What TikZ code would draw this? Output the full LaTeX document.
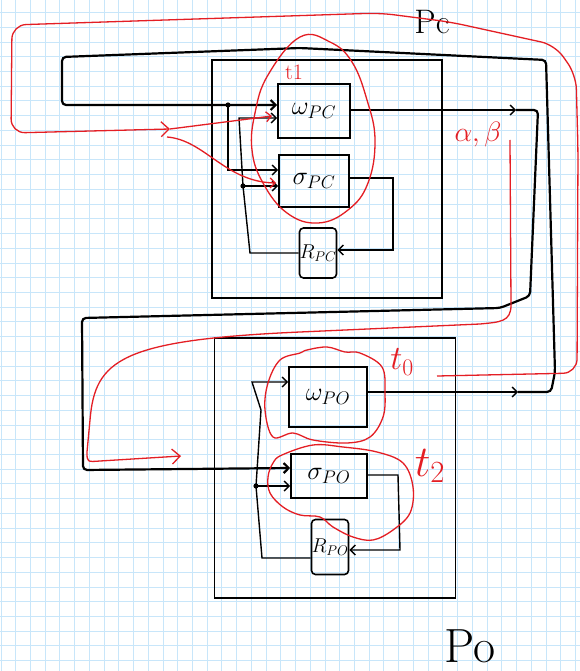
\RequirePackage{fix-cm}
\documentclass[tikz,border=0pt]{standalone}
\usepackage{tikz}
\usetikzlibrary{arrows.meta, positioning}

\definecolor{pen}{RGB}{228,30,36}
\definecolor{gridblue}{RGB}{200,230,250}

\begin{document}
\begin{tikzpicture}[
    x=1pt, y=-1pt,
    gridline/.style={gridblue, line width=1pt},
    module/.style={rectangle, draw, line width=1.8pt, minimum width=#1},
    fn/.style={rectangle, draw, line width=1.6pt, inner sep=0pt, font=\fontsize{26}{28}\selectfont},
    reg/.style={fn, rounded corners=4pt, font=\fontsize{20}{22}\selectfont},
    wire/.style={line width=1.4pt},
    bus/.style={line width=2.2pt, rounded corners=4pt},
    arrow/.style={-{Straight Barb[length=5pt, width=10pt]}},
    flow/.style={pen, line width=1.3pt},
    bigarrow/.style={-{Straight Barb[length=8pt, width=15pt]}},
    note/.style={pen}
]
\useasboundingbox (0,0) rectangle (580,671);
\fill[white] (0,0) rectangle (580,671);

% squared paper
\foreach \i in {0,...,39}
    \draw[gridline] ({1+14.73*\i},0) -- ++(0,671);
\foreach \i in {0,...,45}
    \draw[gridline] (0,{12.6+14.73*\i}) -- ++(580,0);

% the two modules
\node[module=230pt, minimum height=238pt] (pcm) at (327,179) {};
\node[module=241pt, minimum height=260pt] (pom) at (335,468) {};

% PC blocks
\node[fn, minimum width=72pt, minimum height=54pt] (wpc) at (314,111) {$\omega_{PC}$};
\node[fn, minimum width=70pt, minimum height=52pt] (spc) at (314,181) {$\sigma_{PC}$};
\node[reg, minimum width=37pt, minimum height=50pt] (rpc) at (318,253) {$R_{PC}$};

% PO blocks
\node[fn, minimum width=78pt, minimum height=60pt] (wpo) at (328,397) {$\omega_{PO}$};
\node[fn, minimum width=76pt, minimum height=44pt] (spo) at (329,476) {$\sigma_{PO}$};
\node[reg, minimum width=34pt, minimum height=55pt] (rpo) at (330,547) {$R_{PO}$};

\node[font=\fontsize{34}{34}\selectfont] (pc) at (432,22) {Pc};
\node[font=\fontsize{48}{48}\selectfont] (po) at (470,646) {Po};

% junctions and mid-wire arrows
\coordinate (j1) at (228,105);
\coordinate (j2) at (243,186);
\coordinate (j3) at (256,486);
\coordinate (oa) at (516,110);
\coordinate (ob) at (518,392);

% omega_PO -> omega_PC, round the top
\draw[wire, arrow] ([yshift=5pt]wpo.east) -- (ob);
\draw[bus, arrow] (ob) -- (551,392) -- (555,372) -- (546,60) -- (300,48) -- (62,57) -- (62,105) -- ([yshift=6pt]wpc.west);

% omega_PC -> sigma_PO
\draw[wire, arrow] ([yshift=1pt]wpc.east) -- (oa);
\draw[bus, arrow] (oa) -- (538,110) -- (530,296) -- (500,308) -- (82,318) -- (83,470) -- ([yshift=8pt]spo.west);

% inside PC
\draw[wire, arrow] (j1) |- ([yshift=11pt]spc.west);
\draw[wire, arrow] (rpc.west) -- (250,253) -- (j2) -- (239,118) -- ([yshift=-7pt]wpc.west);
\draw[wire, arrow] (j2) -- ([yshift=-5pt]spc.west);
\draw[wire, arrow] ([yshift=3pt]spc.east) -- (393,178) -- (393,250) -- ([yshift=3pt]rpc.east);

% inside PO
\draw[wire, arrow] ([yshift=-11pt]rpo.west) -- (262,558) -- (j3) -- (261,410) -- (252,382) -- ([yshift=15pt]wpo.west);
\draw[wire, arrow] (j3) -- ([yshift=-10pt]spo.west);
\draw[wire, arrow] ([yshift=1pt]spo.east) -- (398,475) -- (400,550) -- ([yshift=-3pt]rpo.east);

\foreach \j in {j1,j2,j3}
    \fill (\j) circle (2.6pt);

% red annotations
\coordinate (rin) at (170,129);
\coordinate (rb) at (181,456);
\draw[flow, bigarrow, rounded corners=14pt] (437,376) -- (577,373) -- (578,150) -- (576,75) -- (555,45) -- (450,22) -- (380,13) -- (12,25) -- (11,133) -- (rin);
\draw[flow, arrow] (rin) -- (272,116);
\draw[flow, arrow] (167,137) .. controls (205,140) and (225,182) .. (276,183);
\draw[flow, bigarrow] (510,140) -- (511,305) .. controls (511,322) and (500,322) .. (480,324) -- (300,332) .. controls (120,340) and (95,360) .. (90,420) -- (87,452) .. controls (87,462) .. (100,461) -- (rb);

\draw[flow] plot[smooth cycle, tension=0.7] coordinates {(300,37) (330,42) (352,62) (367,100) (375,140) (368,183) (348,210) (318,223) (287,213) (263,183) (252,150) (255,113) (268,75)};
\draw[flow] plot[smooth cycle, tension=0.6] coordinates {(280,360) (300,353) (307,350) (327,347) (345,352) (360,353) (382,367) (385,393) (383,417) (370,437) (347,443) (313,440) (293,433) (273,437) (265,410) (268,383)};
\draw[flow] plot[smooth cycle, tension=0.6] coordinates {(282,455) (313,445) (343,447) (377,452) (403,463) (413,487) (410,513) (393,530) (373,540) (353,537) (333,527) (320,517) (300,515) (283,507) (270,493) (268,477) (273,463)};

\node[note, font=\fontsize{22}{22}\selectfont] (t1) at (294,72) {t1};
\node[note, font=\fontsize{28}{28}\selectfont] (ab) at (478,135) {$\alpha,\beta$};
\node[note, font=\fontsize{34}{34}\selectfont] (t0) at (402,362) {$t_0$};
\node[note, font=\fontsize{44}{44}\selectfont] (t2) at (430,466) {$t_2$};
\end{tikzpicture}
\end{document}
